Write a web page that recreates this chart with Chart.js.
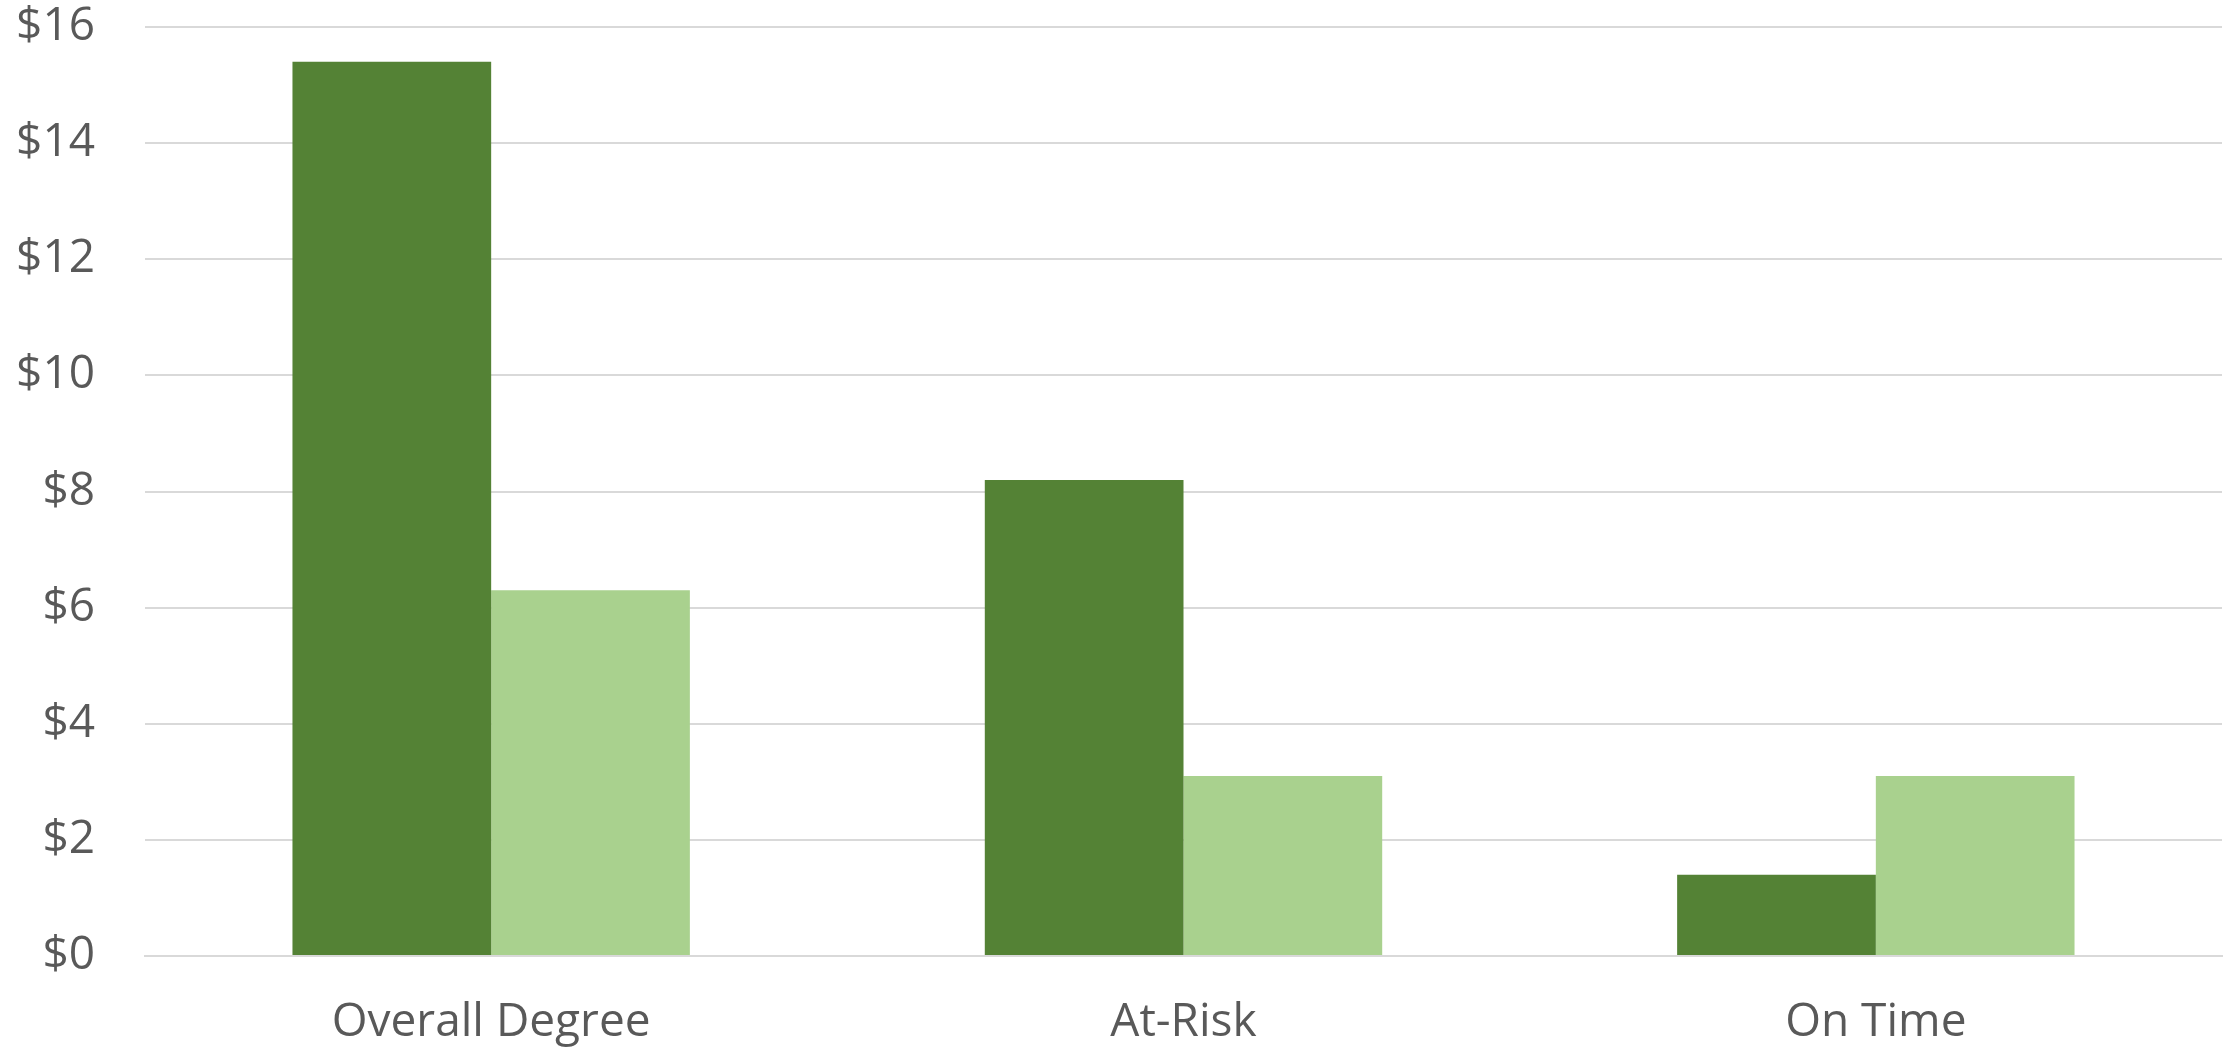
<!DOCTYPE html>
<html>
<head>
<meta charset="utf-8">
<script src="https://cdn.jsdelivr.net/npm/chart.js@4/dist/chart.umd.min.js"></script>
<style>
  html, body { margin: 0; padding: 0; background: #ffffff; }
  #wrap { width: 2234px; height: 1052px; }
</style>
</head>
<body>
<div id="wrap"><canvas id="myChart" width="2234" height="1052"></canvas></div>
<script>
// cost per student, by category
const categories = ['Overall Degree', 'At-Risk', 'On Time'];
const series_1 = [15.4, 8.2, 1.4];
const series_2 = [6.3, 3.1, 3.1];
const y_ticks = [0, 2, 4, 6, 8, 10, 12, 14, 16];

const label_color = '#595959';
const grid_color = '#d9d9d9';

const ctx = document.getElementById('myChart');

new Chart(ctx, {
  type: 'bar',
  data: {
    labels: categories,
    datasets: [{
      label: 'Series 1',
      data: series_1,
      backgroundColor: '#548235',
      borderWidth: 0
    }, {
      label: 'Series 2',
      data: series_2,
      backgroundColor: '#a9d18e',
      borderWidth: 0
    }]
  },
  options: {
    responsive: false,
    animation: false,
    layout: {
      padding: { top: 27, right: 12, left: 0, bottom: 0 }
    },
    datasets: {
      bar: {
        categoryPercentage: 0.574,
        barPercentage: 1.0
      }
    },
    plugins: {
      legend: { display: false },
      tooltip: { enabled: false }
    },
    scales: {
      x: {
        grid: { display: false, drawTicks: false },
        border: { display: true, color: grid_color, width: 2 },
        ticks: {
          color: label_color,
          padding: 39,
          font: { family: 'Open Sans', size: 46 }
        },
        afterFit: function(scale) {
          scale.height = 96;
          scale.paddingLeft = 0;
          scale.paddingRight = 0;
        }
      },
      y: {
        min: 0,
        max: y_ticks[y_ticks.length - 1],
        afterBuildTicks: function(scale) {
          scale.ticks = y_ticks.map(v => ({ value: v }));
        },
        grid: { color: grid_color, lineWidth: 2, drawTicks: false },
        border: { display: false },
        ticks: {
          color: label_color,
          padding: 50,
          font: { family: 'Open Sans', size: 46 },
          callback: function(v) { return '$' + v; }
        },
        afterFit: function(scale) {
          scale.width = 145;
          // keep the top tick label from pushing the plot down
          scale.paddingTop = 0;
          scale.paddingBottom = 0;
        }
      }
    }
  }
});
</script>
</body>
</html>
